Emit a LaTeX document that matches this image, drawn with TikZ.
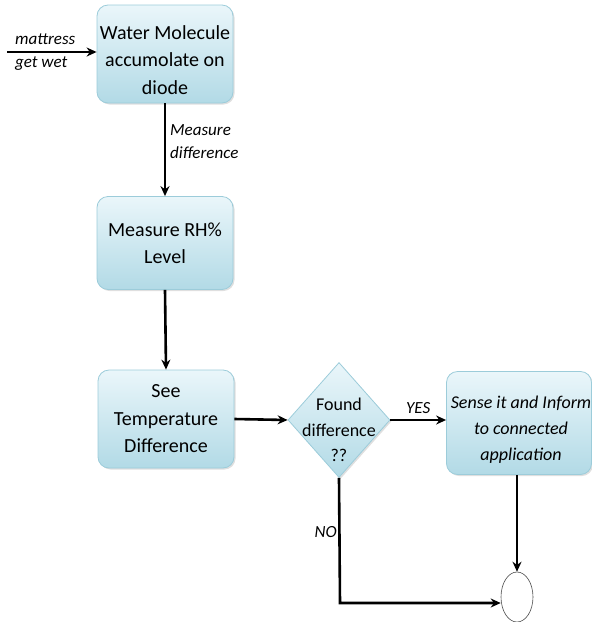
\documentclass[tikz,border=0pt]{standalone}
\usepackage{fontspec}
\setmainfont{Carlito}
\usetikzlibrary{shapes.geometric,shadows,arrows.meta}
\definecolor{boxtop}{HTML}{EAF6FA}
\definecolor{boxbot}{HTML}{B2DAE6}
\definecolor{boxline}{HTML}{9CCCDA}
\begin{document}
\begin{tikzpicture}[x=1pt,y=-1pt,
  stepbox/.style={rectangle, rounded corners=11pt, draw=boxline, line width=0.8pt,
    top color=boxtop, bottom color=boxbot, align=center, inner sep=0pt,
    drop shadow={shadow xshift=1.5pt, shadow yshift=-1.5pt, opacity=0.25},
    font=\fontsize{20}{27.5}\selectfont},
  steptext/.style={align=center, inner sep=0pt, font=\fontsize{20}{27.5}\selectfont},
  decision/.style={diamond, draw=boxline, line width=0.8pt,
    top color=boxtop, bottom color=boxbot, inner sep=0pt,
    minimum width=102pt, minimum height=115pt,
    drop shadow={shadow xshift=1.5pt, shadow yshift=-1.5pt, opacity=0.25}},
  flow/.style={line width=2.6pt, -{Stealth[length=10pt,width=9pt]}},
  lbl/.style={font=\itshape\fontsize{17}{23}\selectfont, align=left, inner sep=0pt},
]
\useasboundingbox (0,0) rectangle (592,622);

% process boxes
\node[stepbox, minimum width=136pt, minimum height=98pt] (wet) at (165,54) {};
\node[steptext] (wettext) at (165,60) {Water Molecule\\accumolate on\\diode};
\node[stepbox, minimum width=136pt, minimum height=93pt] (rh) at (165,243)
  {Measure RH\%\\Level};
\node[stepbox, minimum width=136pt, minimum height=98pt] (temp) at (166,419)
  {See\\Temperature\\Difference};
\node[decision] (dec) at (339,420) {};
\node[font=\fontsize{18}{25.5}\selectfont, align=center] (dectext) at (339,430)
  {Found\\difference\\??};
\node[stepbox, minimum width=145pt, minimum height=103pt] (inform) at (519,423) {};
\node[steptext, font=\itshape\fontsize{18}{26}\selectfont] (informtext) at (521,430)
  {Sense it and Inform\\to connected\\application};
\node[ellipse, draw=black!70, line width=0.6pt, fill=white,
  minimum width=32pt, minimum height=50pt, inner sep=0pt] (end) at (517,597) {};

% connectors
\coordinate (src) at (7,52);
\draw[flow] (src) -- (src -| wet.west);
\node[lbl, anchor=west] (srclbl) at (15,52) {mattress\\get wet};

\draw[flow] (wet.south) -- (rh.north);
\node[lbl, anchor=west] (measlbl) at (170,142) {Measure\\difference};

\draw[flow] (rh.south) -- (temp.north);
\draw[flow] (temp.east) -- (dec.west);
\draw[flow] (dec.east) -- (inform.west |- dec.east)
  node[lbl, midway, above=5pt] (yes) {YES};
\draw[flow] ([xshift=-2pt]inform.south) -- (end.north);
\coordinate (turn) at (340,603);
\draw[flow] (dec.south) -- (turn) -- (turn -| end.west);
\node[lbl, anchor=east] (no) at (337,532) {NO};
\end{tikzpicture}
\end{document}
